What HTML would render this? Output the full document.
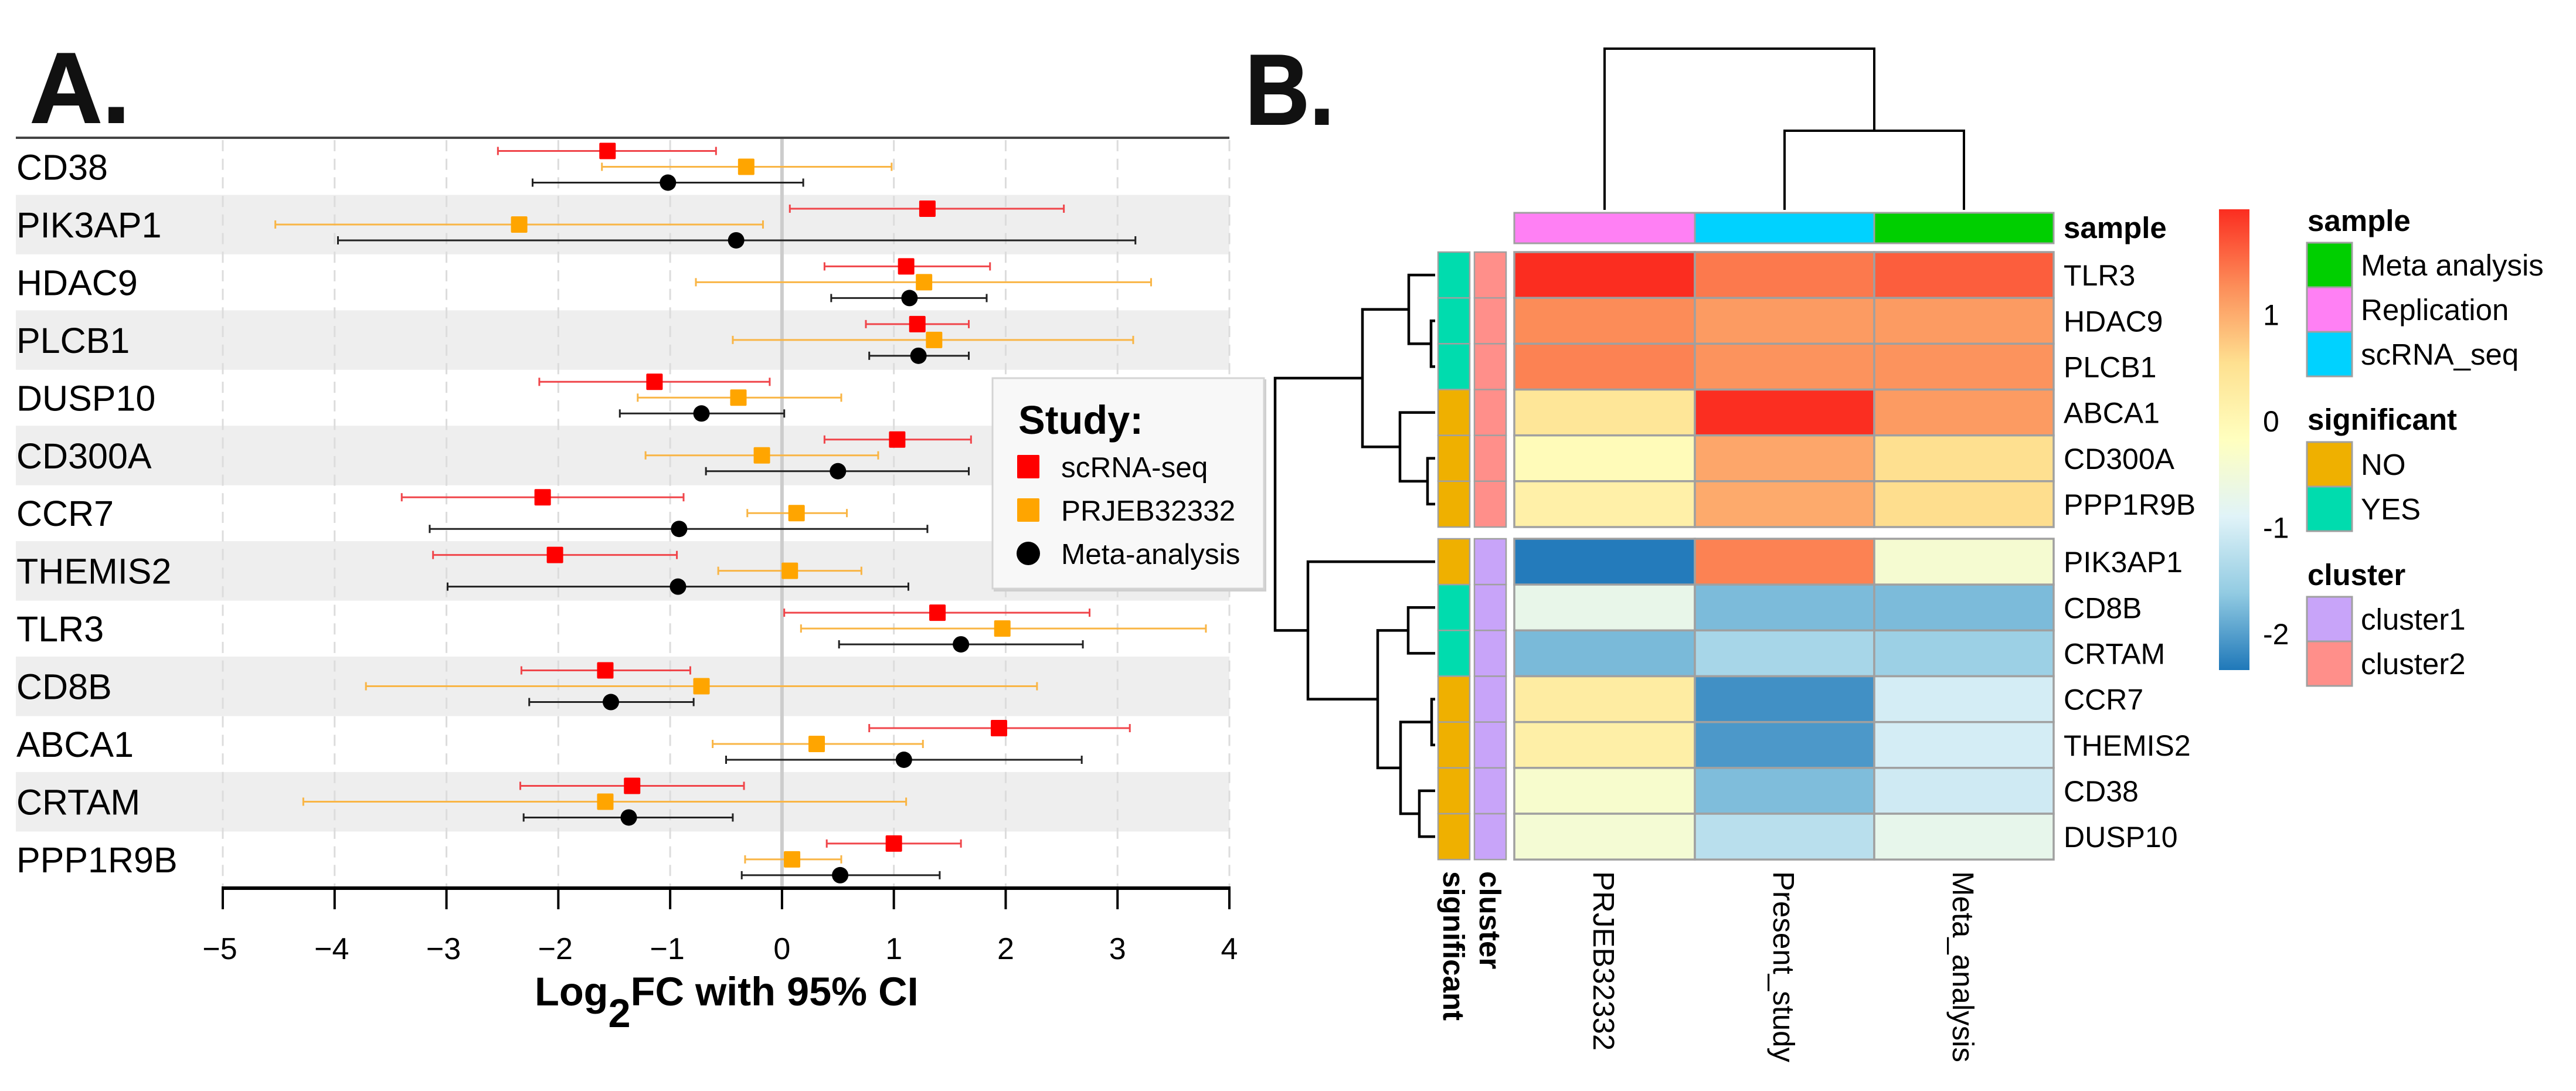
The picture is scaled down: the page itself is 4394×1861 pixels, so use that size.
<!DOCTYPE html>
<html lang="en">
<head>
<meta charset="utf-8">
<title>Forest plot and heatmap</title>
<style>
html,body{margin:0;padding:0;background:#fff}
svg{display:block}
text{font-family:"Liberation Sans",Arial,sans-serif;fill:#000}
</style>
</head>
<body>
<svg id="figure" xmlns="http://www.w3.org/2000/svg" width="4394" height="1861" viewBox="0 0 4394 1861">
<rect x="0" y="0" width="4394" height="1861" fill="#ffffff"/>
<g id="panelA"></g>
<g id="panelB"></g>
<text x="51" y="209" font-size="171" font-weight="700" style="fill:#111" stroke="#111" stroke-width="2">A.</text>
<text x="2124" y="212" font-size="171" font-weight="700" style="fill:#111" stroke="#111" stroke-width="2" textLength="152" lengthAdjust="spacingAndGlyphs">B.</text>
</svg>
<script>
/* ---------- forest plot data ---------- */
var genes = ["CD38","PIK3AP1","HDAC9","PLCB1","DUSP10","CD300A","CCR7","THEMIS2","TLR3","CD8B","ABCA1","CRTAM","PPP1R9B"];
var xTicks = [-5,-4,-3,-2,-1,0,1,2,3,4];
var scrnaEst = [-1.56,1.30,1.11,1.21,-1.14,1.03,-2.14,-2.03,1.39,-1.58,1.94,-1.34,1.00];
var scrnaLo  = [-2.54,0.07,0.38,0.75,-2.17,0.38,-3.40,-3.12,0.02,-2.33,0.78,-2.34,0.40];
var scrnaHi  = [-0.59,2.52,1.86,1.67,-0.11,1.69,-0.88,-0.94,2.75,-0.82,3.11,-0.34,1.60];
var prjebEst = [-0.32,-2.35,1.27,1.36,-0.39,-0.18,0.13,0.07,1.97,-0.72,0.31,-1.58,0.09];
var prjebLo  = [-1.61,-4.53,-0.77,-0.44,-1.29,-1.22,-0.31,-0.57,0.17,-3.72,-0.62,-4.28,-0.33];
var prjebHi  = [0.98,-0.17,3.30,3.14,0.53,0.86,0.58,0.71,3.79,2.28,1.26,1.11,0.53];
var metaEst  = [-1.02,-0.41,1.14,1.22,-0.72,0.50,-0.92,-0.93,1.60,-1.53,1.09,-1.37,0.52];
var metaLo   = [-2.23,-3.97,0.44,0.78,-1.45,-0.68,-3.15,-2.99,0.51,-2.26,-0.50,-2.31,-0.36];
var metaHi   = [0.19,3.16,1.83,1.67,0.02,1.67,1.30,1.13,2.69,-0.79,2.68,-0.44,1.41];
var studyNames = ["scRNA-seq","PRJEB32332","Meta-analysis"];

/* ---------- heatmap data ---------- */
var heatRows = ["TLR3","HDAC9","PLCB1","ABCA1","CD300A","PPP1R9B","PIK3AP1","CD8B","CRTAM","CCR7","THEMIS2","CD38","DUSP10"];
var heatCols = ["PRJEB32332","Present_study","Meta_analysis"];
var heatCol1 = [1.99,1.28,1.35,0.42,-0.08,0.18,-2.30,-0.70,-1.76,0.27,0.20,-0.35,-0.43];
var heatCol2 = [1.42,1.15,1.22,1.98,1.05,1.02,1.35,-1.75,-1.42,-2.12,-2.05,-1.73,-1.25];
var heatCol3 = [1.62,1.15,1.22,1.15,0.55,0.57,-0.40,-1.75,-1.52,-1.00,-1.00,-1.05,-0.72];
var rowSignificant = ["YES","YES","YES","NO","NO","NO","NO","YES","YES","NO","NO","NO","NO"];
var rowCluster = ["cluster2","cluster2","cluster2","cluster2","cluster2","cluster2","cluster1","cluster1","cluster1","cluster1","cluster1","cluster1","cluster1"];
var colSample = ["Replication","scRNA_seq","Meta analysis"];
var colorbarTicks = [1,0,-1,-2];
var rowMerges = [[1,2,7],[0,13,45],[4,5,13],[3,15,60],[14,16,124],[7,8,46],[9,10,6],[11,12,27],[19,20,59],[18,21,98],[6,22,217],[17,23,273]];
var colMerges = [[1,2,135],[0,3,275]];
var legendSample = ["Meta analysis","Replication","scRNA_seq"];
var legendSignificant = ["NO","YES"];
var legendCluster = ["cluster1","cluster2"];

/* ---------- shared helpers ---------- */
var NS = "http://www.w3.org/2000/svg";
function mk(parent, tag, attrs, name, txt){
  var el = document.createElementNS(NS, tag);
  for (var k in attrs) el.setAttribute(k, attrs[k]);
  
  
  if (txt !== undefined) el.textContent = txt;
  parent.appendChild(el);
  return el;
}
function slug(s){ return String(s).toLowerCase().replace(/[^a-z0-9]+/g,'-'); }

/* ---------- panel A ---------- */
var A = document.getElementById('panelA');
var plotL = 27, plotR = 2097, axisY = 1515, topY = 235, rowH = 98.45;
function xScale(v){ return 380 + (v + 5) * (2097 - 380) / 9; }
function rowTop(i){ return topY + i * rowH; }

genes.forEach(function(g,i){
  if (i % 2 === 1) mk(A,'rect',{x:plotL,y:rowTop(i)-1,width:plotR-plotL,height:rowH+3,fill:'#eeeeee'},'row-band-'+slug(g));
});
xTicks.forEach(function(t){
  mk(A,'line',{x1:xScale(t),x2:xScale(t),y1:239,y2:axisY,stroke:'#dcdcdc','stroke-width':3,'stroke-dasharray':'19 12.7'},'gridline-'+t);
});
mk(A,'line',{x1:xScale(0),x2:xScale(0),y1:topY,y2:axisY,stroke:'#cccccc','stroke-width':6},'zero-reference-line');
mk(A,'line',{x1:plotL,x2:plotR,y1:topY,y2:topY,stroke:'#444444','stroke-width':4},'top-border-line');

var seriesDefs = [
  {key:'scrna',est:scrnaEst,lo:scrnaLo,hi:scrnaHi,color:'#ff0000',line:'#f0454a',shape:'square',dy:22.5},
  {key:'prjeb',est:prjebEst,lo:prjebLo,hi:prjebHi,color:'#ffa500',line:'#f9b545',shape:'square',dy:49.5},
  {key:'meta',est:metaEst,lo:metaLo,hi:metaHi,color:'#000000',line:'#222222',shape:'circle',dy:76.5}
];
genes.forEach(function(g,i){
  var cy = rowTop(i) + 49.5;
  mk(A,'text',{x:28,y:cy+22,'font-size':61},'gene-label-'+slug(g),g);
  seriesDefs.forEach(function(s){
    var y = rowTop(i) + s.dy;
    var x1 = xScale(s.lo[i]), x2 = xScale(s.hi[i]), xm = xScale(s.est[i]);
    mk(A,'line',{x1:x1,x2:x2,y1:y,y2:y,stroke:s.line,'stroke-width':3},'ci-line-'+s.key+'-'+slug(g));
    mk(A,'line',{x1:x1,x2:x1,y1:y-7,y2:y+7,stroke:s.line,'stroke-width':3},'ci-cap-low-'+s.key+'-'+slug(g));
    mk(A,'line',{x1:x2,x2:x2,y1:y-7,y2:y+7,stroke:s.line,'stroke-width':3},'ci-cap-high-'+s.key+'-'+slug(g));
    if (s.shape === 'square') {
      mk(A,'rect',{x:xm-14,y:y-14,width:28,height:28,rx:2,fill:s.color},'point-'+s.key+'-'+slug(g));
    } else {
      mk(A,'circle',{cx:xm,cy:y,r:14,fill:s.color},'point-'+s.key+'-'+slug(g));
    }
  });
});
mk(A,'line',{x1:xScale(-5)-2,x2:xScale(4)+2,y1:axisY,y2:axisY,stroke:'#000','stroke-width':6},'x-axis-line');
xTicks.forEach(function(t){
  mk(A,'line',{x1:xScale(t),x2:xScale(t),y1:axisY,y2:1551,stroke:'#000','stroke-width':4},'x-tick-'+t);
  var lab = (t < 0 ? '\u2212' + Math.abs(t) : String(t));
  mk(A,'text',{x:xScale(t)-(t<0?5:0),y:1636,'font-size':52,'text-anchor':'middle'},'x-tick-label-'+t,lab);
});
var titleEl = mk(A,'text',{x:912,y:1715,'font-size':68.5,'font-weight':700},'x-axis-title');
var t1 = document.createElementNS(NS,'tspan'); t1.textContent = 'Log'; titleEl.appendChild(t1);
var t2 = document.createElementNS(NS,'tspan'); t2.setAttribute('dy','37'); t2.textContent = '2'; titleEl.appendChild(t2);
var t3 = document.createElementNS(NS,'tspan'); t3.setAttribute('dy','-37'); t3.textContent = 'FC with 95% CI'; titleEl.appendChild(t3);

/* legend box */
var lg = mk(A,'g',{},'study-legend');
mk(lg,'rect',{x:1695,y:647,width:465,height:362,fill:'#cfcfcf'},'study-legend-shadow');
mk(lg,'rect',{x:1693,y:645,width:463,height:359,fill:'#f8f8f8',stroke:'#d4d4d4','stroke-width':3},'study-legend-box');
mk(lg,'text',{x:1737,y:740,'font-size':68.5,'font-weight':700},'study-legend-title','Study:');
studyNames.forEach(function(n,i){
  var y = 796 + i * 74;
  var s = seriesDefs[i];
  if (s.shape === 'square') mk(lg,'rect',{x:1735,y:y-20,width:38,height:40,rx:2,fill:s.color},'legend-swatch-'+slug(n));
  else mk(lg,'circle',{cx:1754,cy:y,r:20,fill:s.color},'legend-swatch-'+slug(n));
  mk(lg,'text',{x:1810,y:y+18,'font-size':49.5},'legend-entry-'+slug(n),n);
});

/* ---------- panel B ---------- */
var B = document.getElementById('panelB');
var colEdges = [2583,2891,3197,3503];
var palette = ['#fb2d20','#fc8d59','#fee090','#ffffbf','#e0f3f8','#92cbe2','#1f78b9'];
var cbMax = 1.99, cbMin = -2.33;
function hex2rgb(h){ return [parseInt(h.substr(1,2),16),parseInt(h.substr(3,2),16),parseInt(h.substr(5,2),16)]; }
function colorFor(v){
  var f = (cbMax - v) / (cbMax - cbMin);
  f = Math.max(0, Math.min(1, f)) * (palette.length - 1);
  var i = Math.min(palette.length - 2, Math.floor(f)), t = f - i;
  var a = hex2rgb(palette[i]), b = hex2rgb(palette[i+1]);
  return 'rgb(' + [0,1,2].map(function(k){ return Math.round(a[k] + (b[k]-a[k]) * t); }).join(',') + ')';
}
function rowEdge(i){ return i < 6 ? 430 + i * 78.17 : 919 + (i - 6) * 78.17; }
function rowCenter(i){ return rowEdge(i) + 39.08; }
function colCenter(j){ return (colEdges[j] + colEdges[j+1]) / 2; }
var sampleColors = {"Meta analysis":'#00cf00',"Replication":'#ff80f4',"scRNA_seq":'#00d2ff'};
var sigColors = {"NO":'#efb000',"YES":'#00dcae'};
var clusterColors = {"cluster1":'#c8a4f9',"cluster2":'#ff8f8a'};
var GRID = '#a0a0a0';

/* column annotation */
colSample.forEach(function(s,j){
  mk(B,'rect',{x:colEdges[j],y:363,width:colEdges[j+1]-colEdges[j],height:52,fill:sampleColors[s],stroke:GRID,'stroke-width':3},'sample-annotation-'+slug(heatCols[j]));
});
mk(B,'text',{x:3520,y:406,'font-size':51,'font-weight':700},'sample-annotation-label','sample');

/* heat cells */
var heatCols3 = [heatCol1,heatCol2,heatCol3];
heatRows.forEach(function(r,i){
  heatCols3.forEach(function(col,j){
    mk(B,'rect',{x:colEdges[j],y:rowEdge(i),width:colEdges[j+1]-colEdges[j],height:78.17,fill:colorFor(col[i]),stroke:GRID,'stroke-width':3.5},'heat-cell-'+slug(r)+'-'+slug(heatCols[j]));
  });
  mk(B,'rect',{x:2453,y:rowEdge(i),width:54,height:78.17,fill:sigColors[rowSignificant[i]],stroke:GRID,'stroke-width':2.5},'significant-annotation-'+slug(r));
  mk(B,'rect',{x:2515,y:rowEdge(i),width:54,height:78.17,fill:clusterColors[rowCluster[i]],stroke:GRID,'stroke-width':2.5},'cluster-annotation-'+slug(r));
  mk(B,'text',{x:3520,y:rowCenter(i)+18,'font-size':50},'heatmap-row-label-'+slug(r),r);
});

/* rotated labels */
function rotText(x,y,s,bold,name){
  var a = {x:0,y:0,'font-size':bold?51:51,transform:'translate('+x+' '+y+') rotate(90)'};
  if (bold) a['font-weight'] = 700;
  mk(B,'text',a,name,s);
}
rotText(2462,1486,'significant',true,'significant-annotation-label');
rotText(2524,1486,'cluster',true,'cluster-annotation-label');
heatCols.forEach(function(c,j){
  rotText(colCenter(j)-19,1486,c,false,'heatmap-col-label-'+slug(c));
});

/* dendrograms */
function drawRowDendro(){
  var pos = heatRows.map(function(_,i){ return {y:rowCenter(i),h:0}; });
  var base = 2448;
  rowMerges.forEach(function(m,k){
    var a = pos[m[0]], b = pos[m[1]], h = m[2], x = base - h;
    mk(B,'path',{d:'M'+(base-a.h)+' '+a.y+'H'+x+'V'+b.y+'H'+(base-b.h),fill:'none',stroke:'#000','stroke-width':4.5},'row-dendrogram-merge-'+k);
    pos.push({y:(a.y+b.y)/2,h:h});
  });
}
function drawColDendro(){
  var pos = heatCols.map(function(_,j){ return {x:colCenter(j),h:0}; });
  var base = 358;
  colMerges.forEach(function(m,k){
    var a = pos[m[0]], b = pos[m[1]], h = m[2], y = base - h;
    mk(B,'path',{d:'M'+a.x+' '+(base-a.h)+'V'+y+'H'+b.x+'V'+(base-b.h),fill:'none',stroke:'#000','stroke-width':4},'column-dendrogram-merge-'+k);
    pos.push({x:(a.x+b.x)/2,h:h});
  });
}
drawRowDendro();
drawColDendro();

/* colorbar */
var defs = document.createElementNS(NS,'defs');
var grad = document.createElementNS(NS,'linearGradient');
grad.setAttribute('id','cbGrad');
grad.setAttribute('x1','0'); grad.setAttribute('x2','0'); grad.setAttribute('y1','0'); grad.setAttribute('y2','1');
palette.forEach(function(c,i){
  var st = document.createElementNS(NS,'stop');
  st.setAttribute('offset', i / (palette.length - 1));
  st.setAttribute('stop-color', c);
  grad.appendChild(st);
});
defs.appendChild(grad);
B.appendChild(defs);
mk(B,'rect',{x:3785,y:357,width:52,height:786,fill:'url(#cbGrad)'},'colorbar');
colorbarTicks.forEach(function(t){
  var y = 718 - t * 181.5;
  mk(B,'text',{x:3860,y:y+18,'font-size':50},'colorbar-tick-'+slug(t)+(t<0?'neg':''),String(t));
});

/* categorical legends */
function catLegend(title,titleY,swTop,items,colors,name){
  mk(B,'text',{x:3936,y:titleY,'font-size':51,'font-weight':700},name+'-legend-title',title);
  items.forEach(function(n,i){
    var y = swTop + i * 76;
    mk(B,'rect',{x:3935,y:y,width:77,height:76,fill:colors[n],stroke:GRID,'stroke-width':3},name+'-legend-swatch-'+slug(n));
    mk(B,'text',{x:4027,y:y+56,'font-size':51},name+'-legend-entry-'+slug(n),n);
  });
}
catLegend('sample',394,414,legendSample,sampleColors,'sample');
catLegend('significant',733,754,legendSignificant,sigColors,'significant');
catLegend('cluster',998,1018,legendCluster,clusterColors,'cluster');
</script>
</body>
</html>
